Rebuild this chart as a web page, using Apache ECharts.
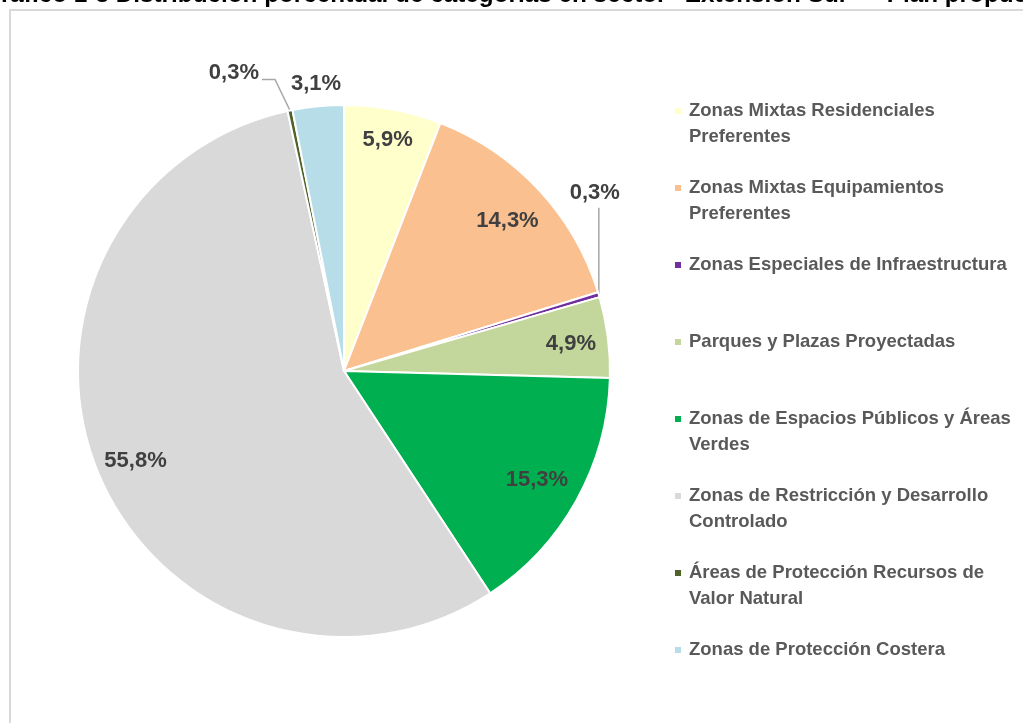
<!DOCTYPE html>
<html>
<head>
<meta charset="utf-8">
<script src="https://cdn.jsdelivr.net/npm/echarts@6/dist/echarts.min.js"></script>
<style>
  html, body { margin: 0; padding: 0; background: #ffffff; }
  #main { width: 1023px; height: 723px; }
</style>
</head>
<body>
<div id="main"></div>
<script>
// Land-use categories and their share of the sector area (%)
const categories = [
  'Zonas Mixtas Residenciales Preferentes',
  'Zonas Mixtas Equipamientos Preferentes',
  'Zonas Especiales de Infraestructura',
  'Parques y Plazas Proyectadas',
  'Zonas de Espacios Públicos y Áreas Verdes',
  'Zonas de Restricción y Desarrollo Controlado',
  'Áreas de Protección Recursos de Valor Natural',
  'Zonas de Protección Costera'
];
const shares = [5.9, 14.3, 0.3, 4.9, 15.3, 55.8, 0.3, 3.1];

// Legend captions, wrapped onto lines
const legendLines = [
  ['Zonas Mixtas Residenciales', 'Preferentes'],
  ['Zonas Mixtas Equipamientos', 'Preferentes'],
  ['Zonas Especiales de Infraestructura'],
  ['Parques y Plazas Proyectadas'],
  ['Zonas de Espacios Públicos y Áreas', 'Verdes'],
  ['Zonas de Restricción y Desarrollo', 'Controlado'],
  ['Áreas de Protección Recursos de', 'Valor Natural'],
  ['Zonas de Protección Costera']
];

const titleText = 'Gráfico 1-3 Distribución porcentual de categorías en sector "Extensión Sur" – Plan propuesto';

const palette = ['#FFFFCC', '#FAC090', '#7030A0', '#C3D69B', '#00B050', '#D9D9D9', '#4F6228', '#B7DEE8'];
const FONT = '"Liberation Sans", Arial, sans-serif';

// How each slice label is placed relative to its slice
const labelPlacement = [
  { type: 'inside', k: 0.89 },
  { type: 'inside', k: 0.84 },
  { type: 'rise', rise: 87, dx: -4, gap: 15 },
  { type: 'inside', k: 0.86 },
  { type: 'inside', k: 0.83 },
  { type: 'inside', k: 0.85 },
  { type: 'elbow', bx: -15, by: -31, run: 13 },
  { type: 'beyond', gap: 22 }
];

const chart = echarts.init(document.getElementById('main'), null, { renderer: 'canvas' });

function sliceLayout(idx) {
  return chart.getModel().getSeriesByIndex(0).getData().getItemLayout(idx);
}

const pieData = categories.map(function (name, i) {
  const pl = labelPlacement[i];
  const outside = pl.type !== 'inside';
  return {
    name: name,
    value: shares[i],
    itemStyle: { color: palette[i] },
    label: { position: outside ? 'outside' : 'inside' },
    labelLine: { show: pl.type === 'rise' || pl.type === 'elbow' }
  };
});

const option = {
  backgroundColor: '#ffffff',
  animation: false,
  graphic: [
    {
      type: 'rect',
      silent: true,
      z: -10,
      shape: { x: 10, y: 10, width: 1200, height: 900 },
      style: { fill: '#ffffff', stroke: '#d9d9d9', lineWidth: 2 }
    },
    {
      type: 'text',
      silent: true,
      x: -18,
      y: -5,
      style: {
        text: titleText,
        font: 'bold 24.3px ' + FONT,
        fill: '#000000',
        verticalAlign: 'middle',
        align: 'left'
      }
    }
  ],
  legend: {
    orient: 'vertical',
    left: 673,
    top: 72,
    padding: 0,
    itemGap: -1,
    itemWidth: 8,
    itemHeight: 8,
    icon: 'rect',
    selectedMode: false,
    textStyle: {
      fontFamily: FONT,
      fontSize: 18.5,
      fontWeight: 'bold',
      color: '#595959',
      lineHeight: 26,
      padding: [0, 0, 0, 2]
    },
    data: categories,
    // three text rows per entry: the marker sits beside the middle row,
    // which carries the first line of the caption
    formatter: function (name) {
      const lines = legendLines[categories.indexOf(name)];
      return [' ', lines[0], lines[1] || ' '].join('\n');
    }
  },
  series: [
    {
      type: 'pie',
      center: [344, 371],
      radius: 266,
      startAngle: 90,
      clockwise: true,
      avoidLabelOverlap: false,
      silent: true,
      emphasis: { disabled: true },
      itemStyle: { borderColor: '#ffffff', borderWidth: 2 },
      label: {
        show: true,
        fontFamily: FONT,
        fontSize: 22,
        fontWeight: 'bold',
        color: '#404040',
        formatter: function (p) {
          return p.value.toFixed(1).replace('.', ',') + '%';
        }
      },
      labelLine: {
        lineStyle: { color: '#a6a6a6', width: 1.5 }
      },
      labelLayout: function (p) {
        const L = sliceLayout(p.dataIndex);
        const pl = labelPlacement[p.dataIndex];
        const a = (L.startAngle + L.endAngle) / 2;
        const ux = Math.cos(a), uy = Math.sin(a);
        const ex = L.cx + L.r * ux, ey = L.cy + L.r * uy;
        if (pl.type === 'inside') {
          return {
            x: L.cx + L.r * pl.k * ux,
            y: L.cy + L.r * pl.k * uy + 2,
            align: 'center', verticalAlign: 'middle'
          };
        }
        if (pl.type === 'beyond') {
          return {
            x: L.cx + (L.r + pl.gap) * ux,
            y: L.cy + (L.r + pl.gap) * uy,
            align: 'center', verticalAlign: 'middle'
          };
        }
        if (pl.type === 'rise') {
          const topY = ey - pl.rise;
          return {
            x: ex + pl.dx,
            y: topY - pl.gap,
            align: 'center', verticalAlign: 'middle',
            labelLinePoints: [[ex, ey], [ex, topY], [ex, topY]]
          };
        }
        // elbow leader: diagonal then horizontal to the left
        const bx = ex + pl.bx, by = ey + pl.by;
        const endX = bx - pl.run;
        return {
          x: endX - 3,
          y: by - 7,
          align: 'right', verticalAlign: 'middle',
          labelLinePoints: [[ex, ey], [bx, by], [endX, by]]
        };
      },
      data: pieData
    }
  ]
};

chart.setOption(option);
</script>
</body>
</html>
